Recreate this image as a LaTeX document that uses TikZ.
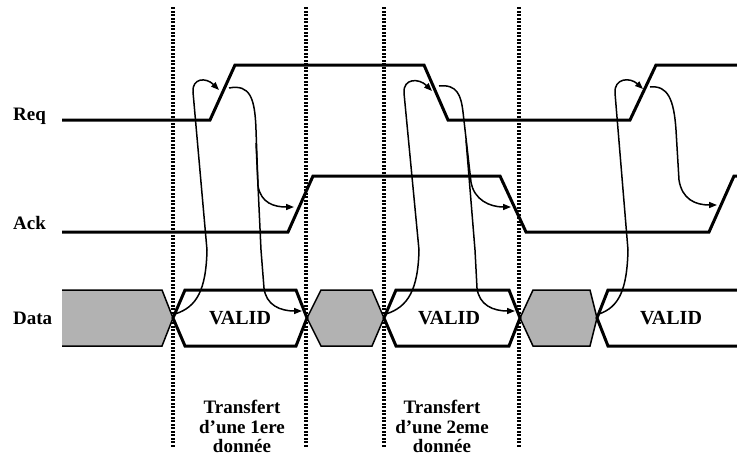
\documentclass[tikz,border=0pt]{standalone}
\usepackage{fontspec}
\setmainfont{Liberation Serif}
\usetikzlibrary{arrows.meta}
\definecolor{blockgray}{RGB}{178,178,178}

\begin{document}
\begin{tikzpicture}[x=1pt,y=-1pt,
  signal/.style={line width=3pt,line join=miter},
  cause/.style={line width=1.5pt,-{Triangle[length=8pt,width=6pt]}},
  valid/.style={draw,line width=3pt,fill=white},
  idle/.style={draw,line width=1.5pt,fill=blockgray},
  lbl/.style={font=\fontsize{19}{19.5}\selectfont\bfseries,inner sep=0}]
\useasboundingbox (0,0) rectangle (737,459);

\foreach \x in {173,306,384,519}{%
  \foreach \y in {7,10.5,...,446}{%
    \fill (\x-1.6,\y) rectangle (\x+1.6,\y+2.4);}}

% signals
\node[lbl,anchor=base west] (req) at (13,120) {Req};
\node[lbl,anchor=base west] (ack) at (13,229) {Ack};
\node[lbl,anchor=base west] (data) at (13,324) {Data};
\draw[signal] (62,120) -- (210,120) -- (235,65) -- (424,65) -- (448,120) -- (630,120) -- (656,65) -- (737,65);
\draw[signal] (62,232) -- (288,232) -- (313,176) -- (500,176) -- (526,232) -- (709,232) -- (734,176) -- (737,176);

% data blocks
\filldraw[idle] (62,290) -- (162,290) -- (173,318) -- (162,346) -- (62,346);
\foreach \a/\b/\c/\d in {307/321/372/384, 520/533/590/597}{%
  \draw[idle] (\a,318) -- (\b,290) -- (\c,290) -- (\d,318) -- (\c,346) -- (\b,346) -- cycle;}
\foreach \a/\b/\c/\d in {173/185/296/307, 384/396/509/520}{%
  \draw[valid] (\a,318) -- (\b,290) -- (\c,290) -- (\d,318) -- (\c,346) -- (\b,346) -- cycle;}
\draw[line width=3pt] (737,290) -- (608,290) -- (597,318) -- (608,346) -- (737,346);
\node[lbl,font=\fontsize{20}{20}\selectfont\bfseries] (v1) at (240,318) {VALID};
\node[lbl,font=\fontsize{20}{20}\selectfont\bfseries] (v2) at (449,318) {VALID};
\node[lbl,font=\fontsize{20}{20}\selectfont\bfseries] (v3) at (671,318) {VALID};

% handshake arrows
\coordinate (d1) at (175,314);  \coordinate (rq1) at (219,90);
\coordinate (rs1) at (229,88);  \coordinate (ak1) at (294,207);
\coordinate (br1) at (256,143); \coordinate (de1) at (302,311);
\coordinate (d2) at (386,314);  \coordinate (rq2) at (432,91);
\coordinate (rs2) at (439,86);  \coordinate (ak2) at (511,207);
\coordinate (br2) at (466,140); \coordinate (de2) at (515,311);
\coordinate (d3) at (599,314);  \coordinate (rq3) at (643,89);
\coordinate (rs3) at (650,87);  \coordinate (ak3) at (717,205);
\draw[cause] (d1) .. controls (197,307) and (206,290) .. (207,250) -- (193,92) .. controls (192,78) and (206,77) .. (rq1);
\draw[cause] (rs1) .. controls (250,84) and (255,98) .. (256,130) -- (258,186) .. controls (261,203) and (274,207) .. (ak1);
\draw[cause] (br1) -- (261,250) -- (264,288) .. controls (266,305) and (280,311) .. (de1);
\draw[cause] (d2) .. controls (408,307) and (418,290) .. (419,250) -- (404,93) .. controls (403,78) and (419,78) .. (rq2);
\draw[cause] (rs2) .. controls (457,84) and (461,95) .. (463,112) -- (471,182) .. controls (474,200) and (490,207) .. (ak2);
\draw[cause] (br2) -- (475,250) -- (477,288) .. controls (479,305) and (493,311) .. (de2);
\draw[cause] (d3) .. controls (619,307) and (627,290) .. (628,250) -- (615,93) .. controls (614,78) and (630,77) .. (rq3);
\draw[cause] (rs3) .. controls (668,85) and (674,100) .. (676,130) -- (679,180) .. controls (682,199) and (695,205) .. (ak3);

% transfer labels
\node[lbl,align=center,anchor=north] (t1) at (242,400) {Transfert\\d’une 1ere\\donnée};
\node[lbl,align=center,anchor=north] (t2) at (442,400) {Transfert\\d’une 2eme\\donnée};
\end{tikzpicture}
\end{document}
